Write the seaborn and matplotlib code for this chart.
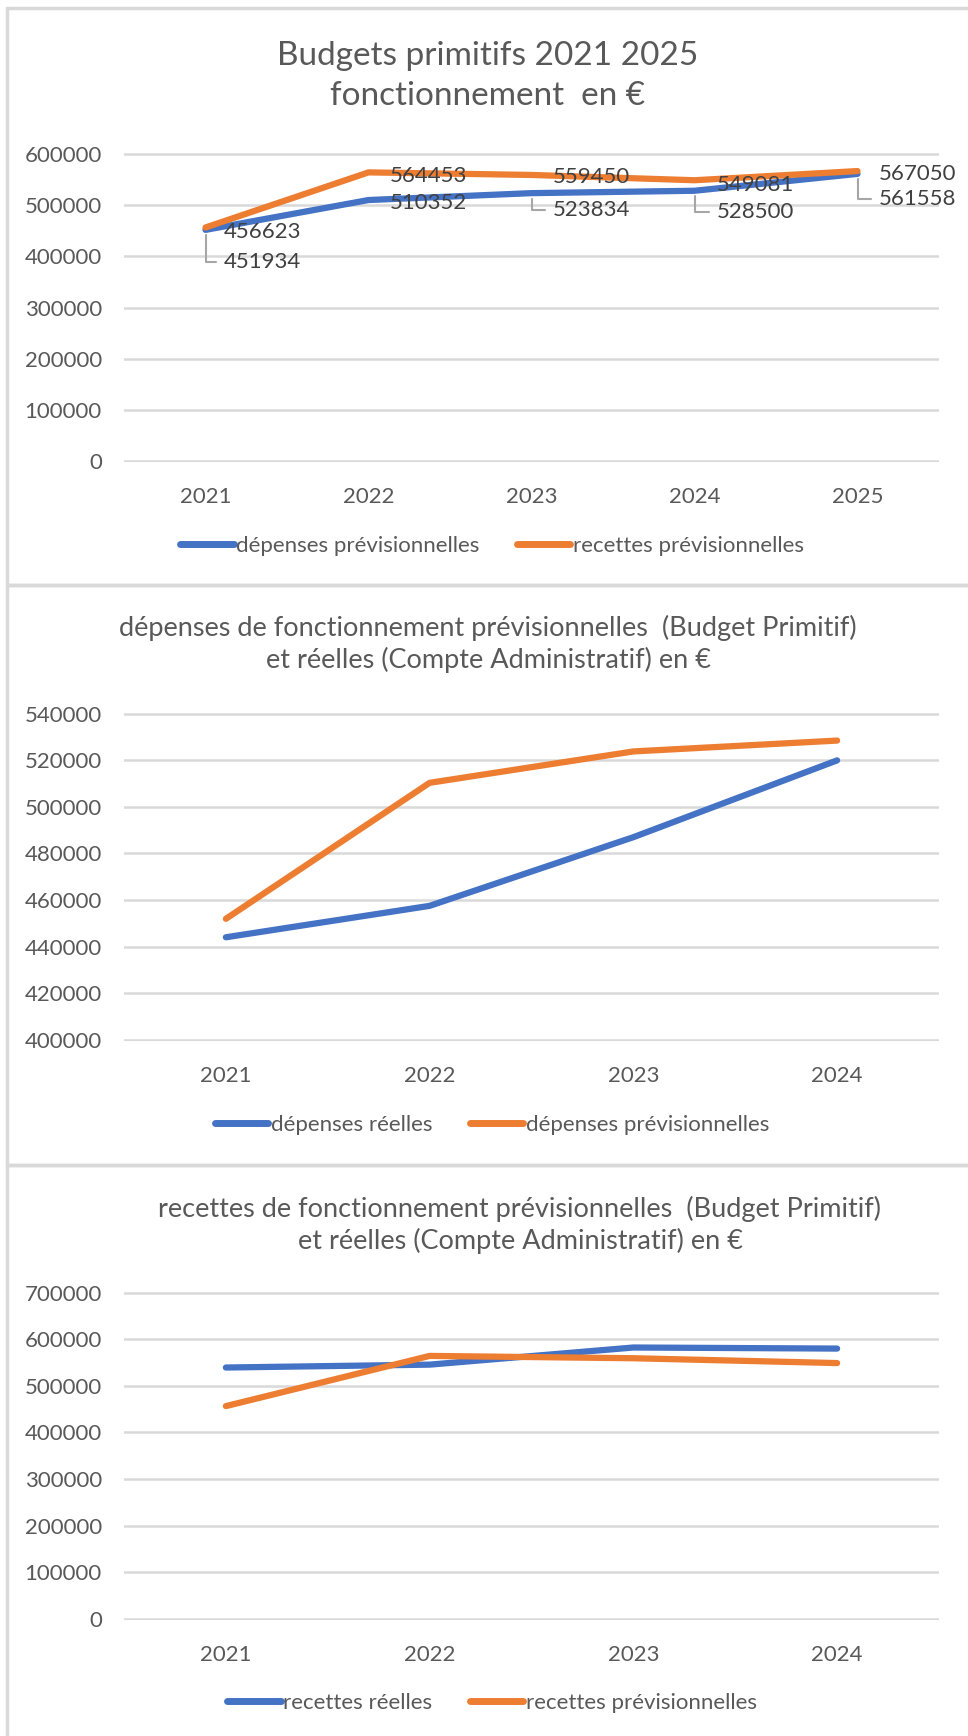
import matplotlib
matplotlib.use("Agg")
import matplotlib.pyplot as plt
from matplotlib.patches import Rectangle
import seaborn as sns
import pandas as pd

# budgets primitifs (BP)
annees_bp = ["2021", "2022", "2023", "2024", "2025"]
depenses_prev = [451934, 510352, 523834, 528500, 561558]
recettes_prev = [456623, 564453, 559450, 549081, 567050]

# comptes administratifs (CA)
annees_ca = ["2021", "2022", "2023", "2024"]
depenses_reelles = [444000, 457500, 487000, 520000]
recettes_reelles = [539500, 545700, 582500, 580200]

BLEU = "#4472C4"
ORANGE = "#ED7D31"
GRIS_TXT = "#595959"
GRIS_GRILLE = "#D9D9D9"

sns.set_theme(style="white")
plt.rcParams["font.family"] = ["Lato", "DejaVu Sans"]
plt.rcParams["text.color"] = GRIS_TXT

W, H = 968, 1736
fig = plt.figure(figsize=(W / 100, H / 100), dpi=100)


def px_axes(left, top, right, bottom):
    return fig.add_axes([left / W, 1 - bottom / H, (right - left) / W, (bottom - top) / H])


def panneau(top, bottom):
    fig.patches.append(Rectangle((7 / W, 1 - bottom / H), 1, (bottom - top) / H,
                                 transform=fig.transFigure, fill=False,
                                 edgecolor=GRIS_GRILLE, linewidth=2.5))


def trace(ax, annees, s1, s2, noms, ymin, ymax, pas):
    df = pd.DataFrame({
        "annee": annees * 2,
        "valeur": s1 + s2,
        "serie": [noms[0]] * len(annees) + [noms[1]] * len(annees),
    })
    sns.lineplot(data=df, x="annee", y="valeur", hue="serie", hue_order=noms,
                 palette=[BLEU, ORANGE], linewidth=4.5, sort=False, legend=False,
                 solid_capstyle="round", solid_joinstyle="round", ax=ax)
    marge = (ymax - ymin) * 0.004
    ax.set_ylim(ymin - marge, ymax + marge)
    ax.set_yticks(range(ymin, ymax + 1, pas))
    ax.set_xlim(-0.5, len(annees) - 0.5)
    ax.yaxis.grid(True, color=GRIS_GRILLE, linewidth=1.8)
    ax.set_axisbelow(True)
    sns.despine(ax=ax, left=True, bottom=True)
    ax.tick_params(length=0, labelsize=16, labelcolor=GRIS_TXT)
    ax.tick_params(axis="y", pad=16)
    ax.tick_params(axis="x", pad=18)
    ax.set_xlabel("")
    ax.set_ylabel("")
    return ax.get_lines()


def legende(lignes, noms, x, y):
    leg = fig.legend(lignes, noms, loc="center", bbox_to_anchor=(x / W, 1 - y / H),
                     ncol=2, frameon=False, fontsize=16, handlelength=2.4,
                     handletextpad=0.1, columnspacing=1.7, labelcolor=GRIS_TXT)
    for l in leg.get_lines():
        l.set_linewidth(5)
        l.set_solid_capstyle("round")


# ---- panneau 1 : budgets primitifs
panneau(8, 585)
ax1 = px_axes(124, 153, 939, 462)
noms1 = ["dépenses prévisionnelles", "recettes prévisionnelles"]
l1 = trace(ax1, annees_bp, depenses_prev, recettes_prev, noms1, 0, 600000, 100000)
fig.text(488 / W, 1 - 76 / H, "Budgets primitifs 2021 2025\nfonctionnement  en €",
         ha="center", va="center", fontsize=24, linespacing=1.45, color=GRIS_TXT)
legende(l1, noms1, 492, 546)

# étiquettes de données
dec_orange = [(18, -5), (21, -4), (21, -2), (22, -5), (21, -3)]
dec_bleu = [(18, -32), (21, -3), (21, -17), (22, -21), (21, -25)]
avec_trait = [True, False, True, True, True]
for i, v in enumerate(recettes_prev):
    ax1.annotate(str(v), xy=(i, v), xytext=dec_orange[i], textcoords="offset pixels",
                 ha="left", va="center", fontsize=16, color="#404040", zorder=5)
for i, v in enumerate(depenses_prev):
    fleche = None
    if avec_trait[i]:
        fleche = dict(arrowstyle="-", color="#A6A6A6", lw=1.5,
                      connectionstyle="angle,angleA=0,angleB=90,rad=0",
                      relpos=(0, 0.5), shrinkA=3, shrinkB=4)
    ax1.annotate(str(v), xy=(i, v), xytext=dec_bleu[i], textcoords="offset pixels",
                 ha="left", va="center", fontsize=16, color="#404040", zorder=5,
                 arrowprops=fleche)

# ---- panneau 2 : dépenses
panneau(585, 1165)
ax2 = px_axes(124, 712.5, 939, 1041)
noms2 = ["dépenses réelles", "dépenses prévisionnelles"]
l2 = trace(ax2, annees_ca, depenses_reelles, depenses_prev[:4], noms2, 400000, 540000, 20000)
fig.text(488 / W, 1 - 644 / H,
         "dépenses de fonctionnement prévisionnelles  (Budget Primitif)\n"
         "et réelles (Compte Administratif) en €",
         ha="center", va="center", fontsize=19.5, linespacing=1.3, color=GRIS_TXT)
legende(l2, noms2, 492, 1125)

# ---- panneau 3 : recettes
panneau(1165, 1740)
ax3 = px_axes(124, 1291.5, 939, 1620)
noms3 = ["recettes réelles", "recettes prévisionnelles"]
l3 = trace(ax3, annees_ca, recettes_reelles, recettes_prev[:4], noms3, 0, 700000, 100000)
fig.text(520 / W, 1 - 1225 / H,
         "recettes de fonctionnement prévisionnelles  (Budget Primitif)\n"
         "et réelles (Compte Administratif) en €",
         ha="center", va="center", fontsize=19.5, linespacing=1.3, color=GRIS_TXT)
legende(l3, noms3, 492, 1703)

fig.savefig("out.png", dpi=100, facecolor="white")
